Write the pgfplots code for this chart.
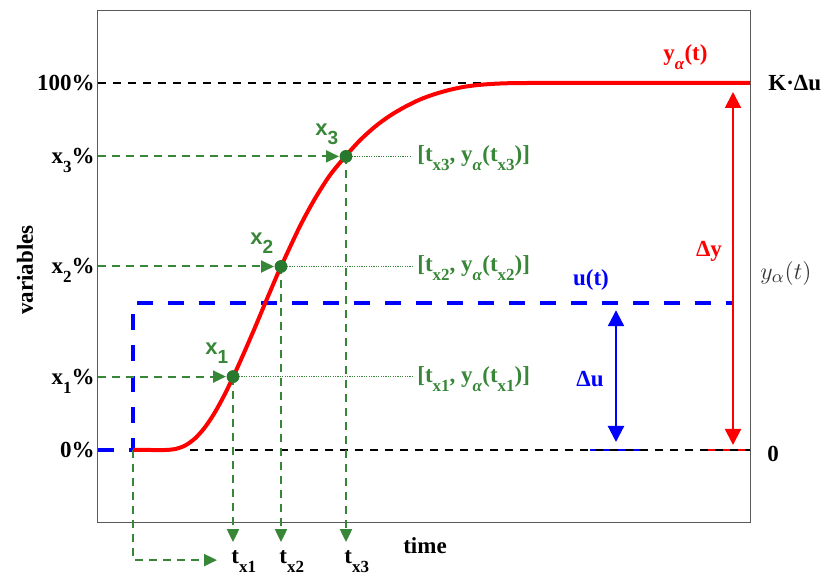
\documentclass[border=0pt]{standalone}
\usepackage{fontspec}
\setmainfont{Liberation Serif}
\setsansfont{Liberation Sans}
\usepackage{pgfplots}
\pgfplotsset{compat=1.18}
\usetikzlibrary{arrows.meta}
\definecolor{myred}{RGB}{255,0,0}
\definecolor{myblue}{RGB}{0,0,255}
\definecolor{mygreen}{RGB}{56,135,56}
\definecolor{mkgreen}{RGB}{40,120,45}
\newcommand{\sub}[1]{\raisebox{-4.5pt}[0pt][0pt]{\fontsize{8.5}{9}\selectfont #1}}
\newcommand{\ssub}[1]{\raisebox{-4.5pt}[0pt][0pt]{\fontsize{9.5}{10}\selectfont #1}}
\newcommand{\fs}{\bfseries\fontsize{11.5}{13}\selectfont}
\tikzset{gtip/.style={-{Triangle[length=6.5pt,width=6pt]}},
  gdash/.style={mygreen, line width=1pt, dash pattern=on 4pt off 3pt},
  gdot/.style={mygreen, line width=0.6pt, dash pattern=on 0.6pt off 0.6pt}}
\begin{document}
\begin{tikzpicture}
\begin{axis}[
 width=326pt, height=256pt, scale only axis,
 xmin=98, xmax=750, ymin=-19.62, ymax=119.89,
 clip=false,
 axis line style={draw=black!65, line width=0.5pt},
 xtick=\empty,
 ytick={0,20,50,80,100},
 yticklabels={{0\%},{x\sub{1}\%},{x\sub{2}\%},{x\sub{3}\%},{100\%}},
 major tick length=0pt,
 yticklabel style={font=\fs, text=black, inner xsep=1.5pt},
]
\coordinate (BBa) at (axis cs:0,-34.06);
\coordinate (BBb) at (axis cs:824,122.62);

% base segments of the arrows
\draw[myblue, line width=1pt] (axis cs:590,0) -- (axis cs:640,0);
\draw[myred, line width=1pt] (axis cs:703,0) -- (axis cs:750,0);
% reference dashed lines
\draw[black, line width=0.9pt, dash pattern=on 4pt off 3.5pt] (axis cs:98,100) -- (axis cs:570,100);
\draw[black, line width=0.9pt, dash pattern=on 4pt off 3.5pt] (axis cs:190,0) -- (axis cs:750,0);

% input step
\addplot[myblue, line width=2.2pt, dash pattern=on 8pt off 7.5pt] coordinates {(98,0)(133,0)(133,40)(733,40)};

% green guides
\draw[gdash, gtip] (axis cs:98,20) -- (axis cs:226,20);
\draw[gdash, gtip] (axis cs:98,50) -- (axis cs:274,50);
\draw[gdash, gtip] (axis cs:98,80) -- (axis cs:339,80);
\draw[gdash, gtip] (axis cs:233,20) -- (axis cs:233,-25.1);
\draw[gdash, gtip] (axis cs:281,50) -- (axis cs:281,-25.1);
\draw[gdash, gtip] (axis cs:346,80) -- (axis cs:346,-25.1);
\draw[gdash, gtip] (axis cs:133,0) -- (axis cs:133,-30) -- (axis cs:217,-30);
\draw[gdot] (axis cs:239,20) -- (axis cs:412,20);
\draw[gdot] (axis cs:287,50) -- (axis cs:412,50);
\draw[gdot] (axis cs:352,80) -- (axis cs:412,80);

% output response
\addplot[myred, line width=2pt, smooth] coordinates {
(133,0)(150,0)(165,0)(175,0.25)(185,1.2)(195,3.15)(205,6.2)(215,10.3)(225,15.3)
(235,21.0)(245,27.1)(255,33.4)(265,39.9)(275,46.3)(281,50.0)(300,61.0)(315,68.5)
(330,74.9)(346,80.2)(360,84.4)(375,88.1)(390,91.1)(405,93.5)(420,95.5)(435,97.0)
(450,98.15)(465,99.0)(480,99.5)(495,99.8)(510,99.95)(530,100)(750,100)};

% characteristic points
\addplot[only marks, mark=*, mark size=3pt, color=mkgreen] coordinates {(233,20)(281,50)(346,80)};

% arrows
\draw[myred, line width=1pt, {Triangle[length=8pt,width=8pt]}-{Triangle[length=8pt,width=8pt]}, shorten <=2.5pt, shorten >=4.5pt] (axis cs:733,0) -- (axis cs:733,100);
\draw[myblue, line width=1.1pt, {Triangle[length=8pt,width=8pt]}-{Triangle[length=8pt,width=8pt]}, shorten <=4pt, shorten >=3.5pt] (axis cs:616,0) -- (axis cs:616,40);

% labels
\node[rotate=90, font=\fs] at (axis cs:25,49) {variables};
\node[font=\fs] at (axis cs:425,-26.0) {time};
\node[anchor=base west, inner sep=0, font=\fs, text=black] at (axis cs:231,-30.8) {t\sub{x1}};
\node[anchor=base west, inner sep=0, font=\fs, text=black] at (axis cs:279,-30.8) {t\sub{x2}};
\node[anchor=base west, inner sep=0, font=\fs, text=black] at (axis cs:344,-30.8) {t\sub{x3}};

\node[anchor=base west, inner sep=0, text=mygreen, font=\sffamily\bfseries\fontsize{11}{13}\selectfont] at (axis cs:205,25.9) {x\ssub{1}};
\node[anchor=base west, inner sep=0, text=mygreen, font=\sffamily\bfseries\fontsize{11}{13}\selectfont] at (axis cs:250,55.9) {x\ssub{2}};
\node[anchor=base west, inner sep=0, text=mygreen, font=\sffamily\bfseries\fontsize{11}{13}\selectfont] at (axis cs:315,85.8) {x\ssub{3}};

\node[anchor=west, inner sep=0, text=mygreen, font=\fs] at (axis cs:417,20) {[t\sub{x1}, y\sub{\textit{α}}(t\sub{x1})]};
\node[anchor=west, inner sep=0, text=mygreen, font=\fs] at (axis cs:417,50) {[t\sub{x2}, y\sub{\textit{α}}(t\sub{x2})]};
\node[anchor=west, inner sep=0, text=mygreen, font=\fs] at (axis cs:417,80) {[t\sub{x3}, y\sub{\textit{α}}(t\sub{x3})]};

\node[anchor=west, inner sep=0, font=\fs] at (axis cs:768,100) {K·Δu};
\node[anchor=west, inner sep=0, font=\fs] at (axis cs:767,-1.2) {0};
\node[anchor=west, inner sep=0, text=black!80, font=\fontsize{12.5}{14}\selectfont] at (axis cs:760,48.2) {$y_\alpha(t)$};

\node[text=myred, font=\fs] at (axis cs:709,54.1) {Δy};
\node[text=myblue, font=\fs] at (axis cs:590,19.3) {Δu};
\node[text=myblue, font=\fs] at (axis cs:591,46.3) {u(t)};
\node[anchor=base west, inner sep=0, text=myred, font=\fs] at (axis cs:663,106.0) {y\sub{\textit{α}}(t)};
\end{axis}
\pgfresetboundingbox
\path[use as bounding box] (BBa) rectangle (BBb);
\end{tikzpicture}
\end{document}
